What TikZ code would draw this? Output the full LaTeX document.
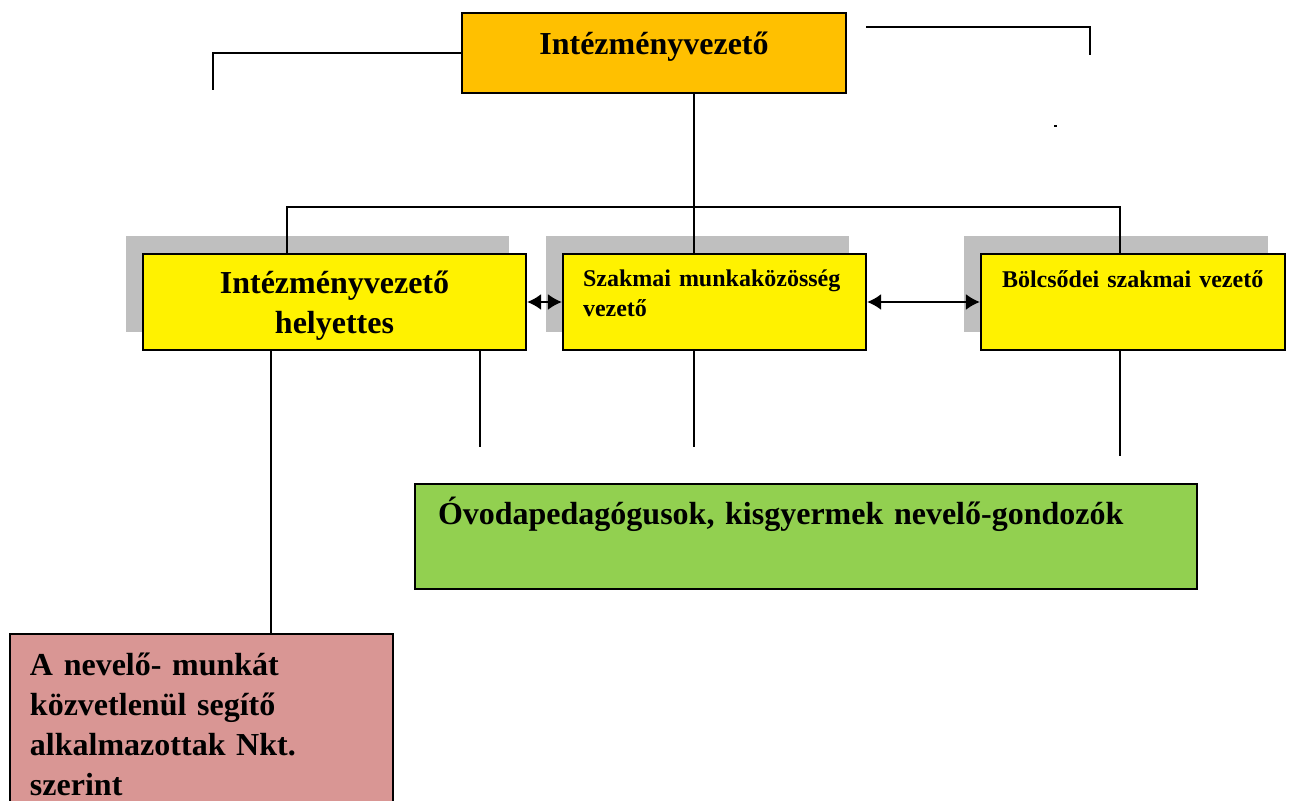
\documentclass[tikz,border=0pt]{standalone}
\usepackage{fontspec}
\setmainfont{Liberation Serif}
\usetikzlibrary{arrows.meta, shadows}

\definecolor{headcolor}{HTML}{FFC000}
\definecolor{staffgreen}{HTML}{92D050}
\definecolor{helpred}{HTML}{D99694}

\begin{document}
\begin{tikzpicture}[
    x=0.5pt, y=-0.5pt,
    box/.style={rectangle, draw, line width=1.1pt, fill=yellow, inner sep=0pt},
    unit/.style={box, minimum height=48pt, general shadow={fill=gray!50, shadow xshift=-8.5pt, shadow yshift=9pt}},
    big/.style={font=\fontsize{16}{20}\selectfont\bfseries},
    small/.style={font=\fontsize{12}{15}\selectfont\bfseries},
    line/.style={draw, line width=0.9pt},
    both/.style={draw, line width=1pt, {Latex[length=7pt,width=8pt]}-{Latex[length=7pt,width=8pt]}}
]
\useasboundingbox (0,0) rectangle (1292,801);

\node [box, fill=headcolor, big, minimum width=192pt, minimum height=40pt, text height=12pt, text depth=10pt] (head) at (654,53) {Intézményvezető};
\node [unit, big, minimum width=191.5pt, align=center] (deputy) at (334.5,302) {\rule{0pt}{14.5pt}Intézményvezető\\helyettes};
\node [unit, small, text width=131.5pt, inner xsep=10pt, align=left] (team) at (714.5,302) {Szakmai munkaközösség\\vezető\rule[-8.4pt]{0pt}{0pt}};
\node [unit, small, text width=131pt, inner xsep=10.5pt, align=left, text height=9pt, text depth=23pt] (nursery) at (1133,302) {Bölcsődei szakmai vezető};
\node [box, fill=staffgreen, big, minimum height=52.5pt, text width=368pt, inner xsep=11.5pt, align=left, text height=12pt, text depth=23.5pt] (staff) at (806,536.5) {Óvodapedagógusok, kisgyermek nevelő-gondozók};
\node [box, fill=helpred, big, minimum height=90pt, text width=171.5pt, inner xsep=10pt, align=left] (helpers) at (201.5,724) {A nevelő- munkát\\közvetlenül segítő\\alkalmazottak Nkt.\\szerint};

% loose ends
\coordinate (tl) at (213,90);
\coordinate (tr1) at (866,27);
\coordinate (tr2) at (1090,55);
\coordinate (bus) at (694,207);
\coordinate (busL) at (287,207);
\coordinate (busR) at (1120,207);
\coordinate (d1) at (271,0);
\coordinate (d2) at (480,447);
\coordinate (d3) at (694,447);
\coordinate (d4) at (1120,456);

\path [line] (head.west) -| (tl);
\path [line] (tr1) -| (tr2);
\fill (1054,125) rectangle (1057,127);

\path [line] (head.south -| bus) -- (team.north -| bus);
\path [line] (deputy.north -| busL) |- (busR) -- (nursery.north -| busR);

\path [both] (deputy.east) -- (team.west);
\path [both] (team.east) -- (nursery.west);

\path [line] (deputy.south -| d1) -- (helpers.north -| d1);
\path [line] (deputy.south -| d2) -- (d2);
\path [line] (team.south -| d3) -- (d3);
\path [line] (nursery.south -| d4) -- (d4);
\end{tikzpicture}
\end{document}
